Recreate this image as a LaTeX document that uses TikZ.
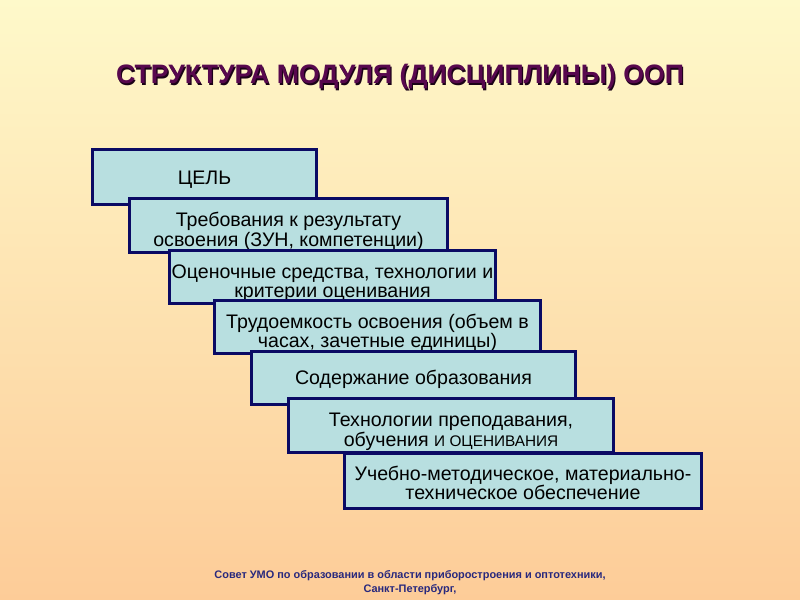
\documentclass[tikz,border=0pt]{standalone}
\usepackage{fontspec}
\setmainfont{Liberation Sans}
\definecolor{bgtop}{RGB}{254,249,202}
\definecolor{bgbottom}{RGB}{253,204,152}
\definecolor{boxfill}{RGB}{184,223,224}
\definecolor{boxline}{RGB}{10,10,100}
\definecolor{titlecol}{RGB}{88,8,78}
\definecolor{footcol}{RGB}{40,40,125}
% strut that pushes the text of a box a little down
\newcommand{\dn}[1][19.5pt]{\rule{0pt}{#1}}

\begin{document}
\begin{tikzpicture}[x=0.75pt, y=-0.75pt,
        stepbox/.style = {draw=boxline, fill=boxfill, line width=2.5pt, align=center,
                          inner sep=0pt, font=\fontsize{14.7}{14.5}\selectfont},
        title/.style = {font=\fontsize{20}{24}\selectfont\bfseries, text=titlecol},
        foot/.style = {font=\fontsize{8.2}{10.5}\selectfont\bfseries, text=footcol, align=center}
    ]
        \shade[top color=bgtop, bottom color=bgbottom] (0,0) rectangle (800,600);
        \useasboundingbox (0,0) rectangle (800,600);
        \node[title, text=black!70!titlecol] (headshadow) at (401.2,78.2) {СТРУКТУРА МОДУЛЯ (ДИСЦИПЛИНЫ) ООП};
        \node[title] (head) at (400,77) {СТРУКТУРА МОДУЛЯ (ДИСЦИПЛИНЫ) ООП};
        % staircase of boxes
        \node[stepbox, minimum width=168pt, minimum height=41.25pt] (goal) at (204.5,177) {\dn[13.5pt]ЦЕЛЬ};
        \node[stepbox, minimum width=238.5pt, minimum height=40.5pt] (req) at (288.5,225.5)
            {\dn Требования к результату\\освоения (ЗУН, компетенции)};
        \node[stepbox, minimum width=244.5pt, minimum height=39.75pt] (eval) at (332.5,277)
            {\dn Оценочные средства, технологии и\\критерии оценивания};
        \node[stepbox, minimum width=244.5pt, minimum height=39.75pt] (labor) at (377.5,327)
            {\dn Трудоемкость освоения (объем в\\часах, зачетные единицы)};
        \node[stepbox, minimum width=243pt, minimum height=39.75pt] (content) at (413.5,378)
            {\dn[13.5pt]Содержание образования};
        \node[stepbox, minimum width=243.75pt, minimum height=40.5pt] (tech) at (451,425.5)
            {\dn Технологии преподавания,\\обучения {\fontsize{11.5}{11}\selectfont И ОЦЕНИВАНИЯ}};
        \node[stepbox, minimum width=267.75pt, minimum height=41.25pt] (supply) at (523,481)
            {\dn[14pt]Учебно-методическое, материально-\\техническое обеспечение};
        \node[foot] (council) at (410,583)
            {Совет УМО по образовании в области приборостроения и оптотехники,\\Санкт-Петербург,};
    \end{tikzpicture}
\end{document}
